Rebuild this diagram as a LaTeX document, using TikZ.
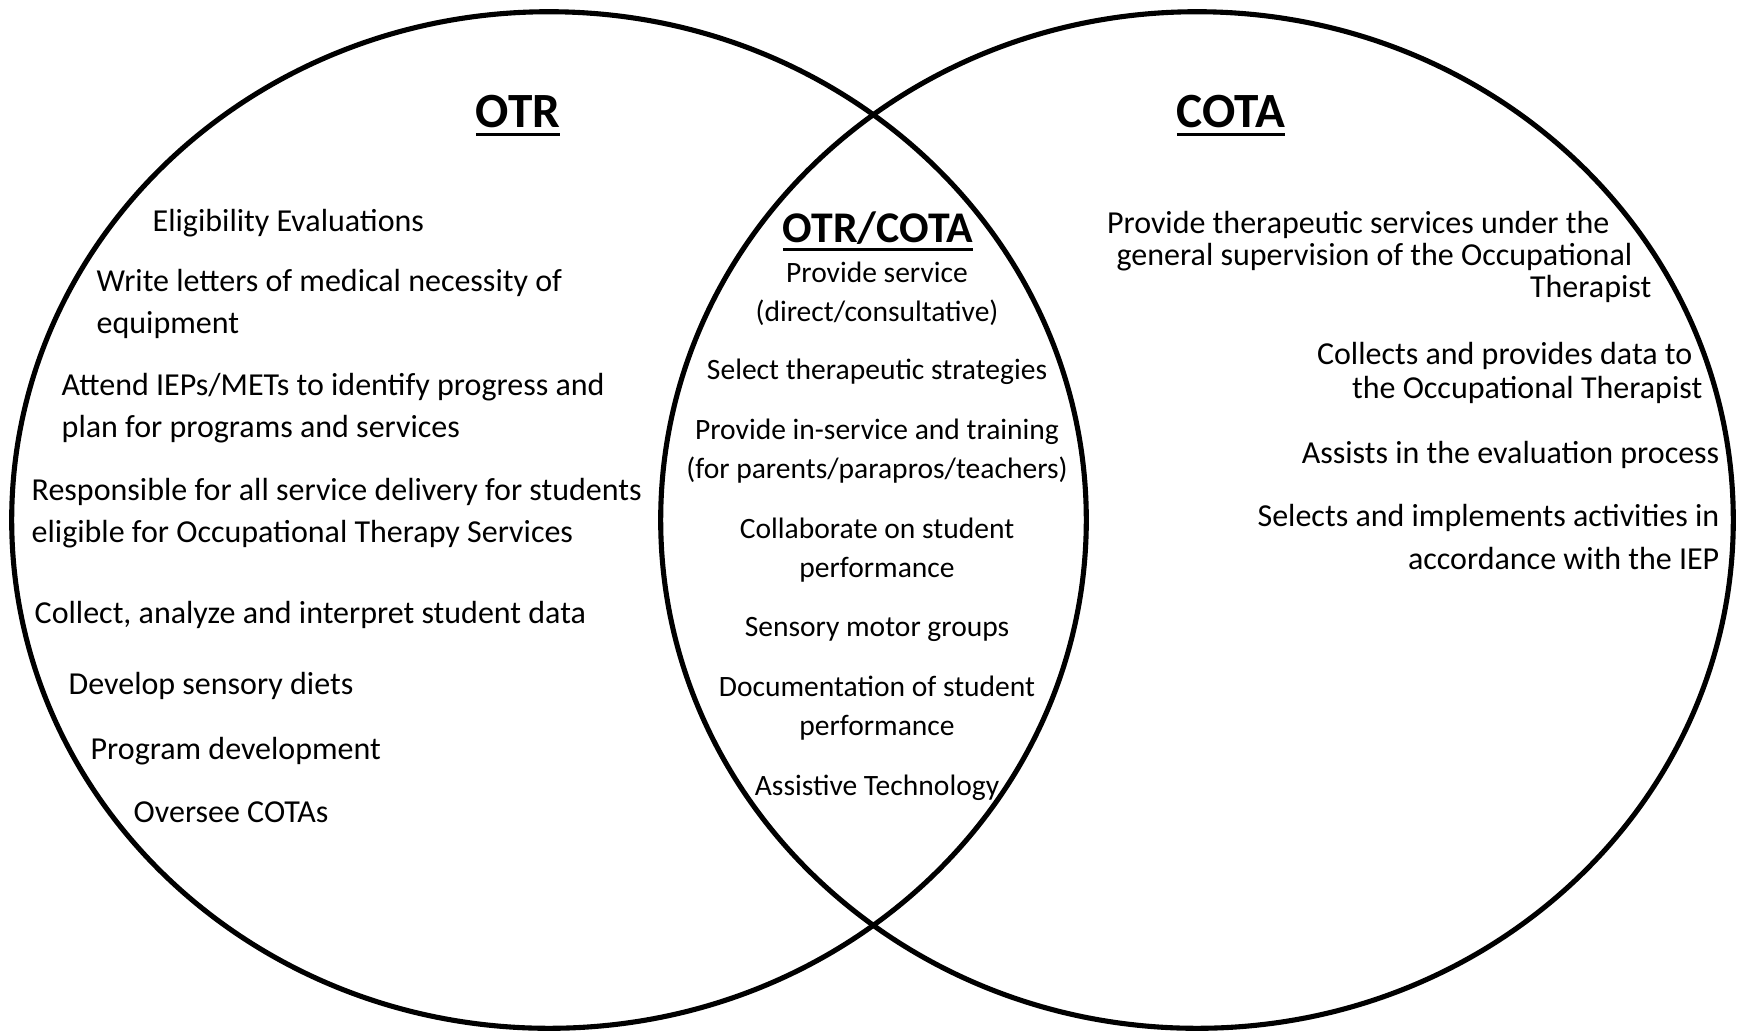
\documentclass[tikz,border=0pt]{standalone}
\usepackage{fontspec}
\setmainfont{Carlito}
\newcommand\hdul[1]{\setbox0\hbox{#1}\rlap{\vrule width\wd0 height -1.6pt depth 2.6pt}\box0}

\begin{document}
\begin{tikzpicture}[x=0.01cm,y=-0.01cm,
  ring/.style={line width=1.45pt},
  head/.style={anchor=base,inner sep=0pt,font=\bfseries\fontsize{14}{16}\selectfont},
  midhead/.style={anchor=base,inner sep=0pt,font=\bfseries\fontsize{12.45}{14}\selectfont},
  leftitem/.style={anchor=west,align=left,inner sep=0pt,font=\fontsize{9.1}{11.95}\selectfont},
  miditem/.style={anchor=center,align=center,inner sep=0pt,font=\fontsize{8.4}{11}\selectfont},
  rightitem/.style={anchor=east,align=right,inner sep=0pt,font=\fontsize{9.1}{#1}\selectfont},
  rightitem/.default=11.95]
\useasboundingbox (0,0) rectangle (1738,1032);

\draw[ring] (549,520) ellipse [x radius=5.37cm, y radius=5.08cm];
\draw[ring] (1197,520) ellipse [x radius=5.36cm, y radius=5.08cm];

\node[head] (otr) at (518,127) {\hdul{OTR}};
\node[head] (cota) at (1231,127) {\hdul{COTA}};
\node[midhead] (both) at (878,242) {\hdul{OTR/COTA}};

\node[leftitem] (elig) at (152,223) {Eligibility Evaluations};
\node[leftitem] (letters) at (96,304) {Write letters of medical necessity of\\equipment};
\node[leftitem] (ieps) at (61,408) {Attend IEPs/METs to identify progress and\\plan for programs and services};
\node[leftitem] (resp) at (31,513) {Responsible for all service delivery for students\\eligible for Occupational Therapy Services};
\node[leftitem] (data) at (34,615) {Collect, analyze and interpret student data};
\node[leftitem] (diets) at (68,686) {Develop sensory diets};
\node[leftitem] (progdev) at (90,751) {Program development};
\node[leftitem] (oversee) at (133,812) {Oversee COTAs};

\node[miditem] (service) at (877,294) {Provide service\\(direct/consultative)};
\node[miditem] (strat) at (877,372) {Select therapeutic strategies};
\node[miditem] (inserv) at (877,451) {Provide in-service and training\\(for parents/parapros/teachers)};
\node[miditem] (collab) at (877,550) {Collaborate on student\\performance};
\node[miditem] (motor) at (877,629) {Sensory motor groups};
\node[miditem] (docs) at (877,708) {Documentation of student\\performance};
\node[miditem] (assist) at (877,788) {Assistive Technology};

\node[rightitem=9.1] (supervis) at (1652,257) {Provide therapeutic services under the\rule{0.42cm}{0pt}\\general supervision of the Occupational\rule{0.19cm}{0pt}\\Therapist};
\node[rightitem=9.8] (collects) at (1703,373) {Collects and provides data to\rule{0.1cm}{0pt}\\the Occupational Therapist};
\node[rightitem] (evalproc) at (1720,455) {Assists in the evaluation process};
\node[rightitem] (selects) at (1720,537) {Selects and implements activities in\\accordance with the IEP};

\end{tikzpicture}
\end{document}
